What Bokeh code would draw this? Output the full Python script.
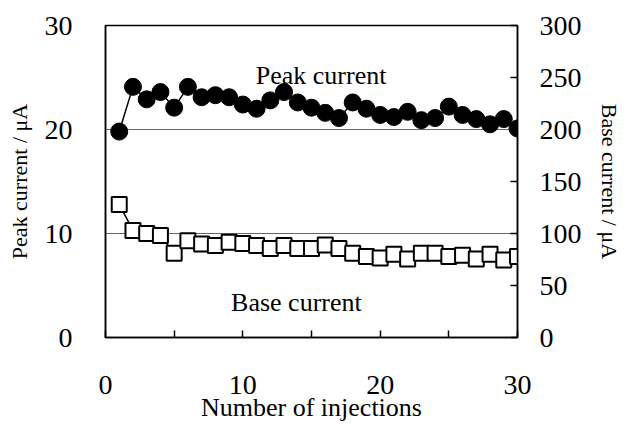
from bokeh.plotting import figure
from bokeh.models import Range1d, LinearAxis, FixedTicker, Label
from bokeh.embed import file_html
from bokeh.resources import INLINE

injections = list(range(1, 31))
peak_current = [19.8, 24.1, 22.9, 23.6, 22.1, 24.1, 23.1, 23.3, 23.1, 22.4,
                22.0, 22.8, 23.6, 22.6, 22.1, 21.6, 21.1, 22.6, 22.0, 21.4,
                21.2, 21.7, 20.9, 21.1, 22.2, 21.4, 21.0, 20.5, 21.0, 20.1]
base_current = [128, 103, 100, 98, 81, 93, 90, 88.5, 91.5, 90.5,
                88.5, 85.5, 88.5, 85.5, 85.5, 89, 85.5, 81, 78, 76.5,
                80, 75.5, 81, 81, 78, 79, 75.5, 80, 74.5, 78]

x_ticks = [0, 10, 20, 30]
x_minor = [5, 15, 25]
left_ticks = [0, 10, 20, 30]
right_ticks = [0, 50, 100, 150, 200, 250, 300]

FONT = "Liberation Serif"

p = figure(width=625, height=426, output_backend="svg", toolbar_location=None,
           x_range=Range1d(0, 30), y_range=Range1d(0, 30),
           min_border_left=105, min_border_right=108, min_border_top=25, min_border_bottom=89)
p.extra_y_ranges = {"base": Range1d(0, 300)}

p.outline_line_color = "black"
p.outline_line_width = 1.5
p.background_fill_color = "white"
p.border_fill_color = "white"

p.xgrid.visible = False
p.ygrid.ticker = FixedTicker(ticks=[10, 20])
p.ygrid.grid_line_color = "#666666"
p.ygrid.grid_line_width = 1

# bottom axis
xa = p.xaxis[0]
xa.ticker = FixedTicker(ticks=x_ticks, minor_ticks=x_minor)
xa.axis_label = "Number of injections"
xa.major_tick_in = 7
xa.major_tick_out = 0
xa.minor_tick_in = 7
xa.minor_tick_out = 0
xa.major_label_standoff = 38
xa.axis_label_standoff = -4

# left axis
ya = p.yaxis[0]
ya.ticker = FixedTicker(ticks=left_ticks)
ya.axis_label = "Peak current / μA"
ya.major_tick_in = 0
ya.major_tick_out = 0
ya.minor_tick_line_color = None
ya.major_label_standoff = 33
ya.axis_label_standoff = 10

ra = LinearAxis(y_range_name="base", ticker=FixedTicker(ticks=right_ticks))
ra.axis_label = "Base current / μA"
ra.major_tick_in = 7
ra.major_tick_out = 0
ra.minor_tick_line_color = None
ra.major_label_standoff = 22
ra.axis_label_standoff = 12
p.add_layout(ra, "right")

for ax in [xa, ya, ra]:
    ax.axis_line_color = "black"
    ax.axis_line_width = 1.5
    ax.major_tick_line_color = "black"
    ax.major_tick_line_width = 1.5
    ax.minor_tick_line_width = 1.5
    ax.major_label_text_font = FONT
    ax.major_label_text_font_size = "28px"
    ax.major_label_text_color = "black"
    ax.axis_label_text_font = FONT
    ax.axis_label_text_font_style = "normal"
    ax.axis_label_text_color = "black"
    ax.axis_label_text_font_size = "22px"
xa.axis_label_text_font_size = "26px"

# peak current series
p.line(injections, peak_current, line_color="black", line_width=1.5)
p.scatter(injections, peak_current, marker="circle", size=17,
          fill_color="black", line_color="black")

# base current series
p.line(injections, base_current, line_color="black", line_width=1.5, y_range_name="base")
p.scatter(injections, base_current, marker="square", size=15,
          fill_color="white", line_color="black", line_width=2, y_range_name="base")

p.add_layout(Label(x=15.7, y=25.2, text="Peak current", text_font=FONT,
                   text_font_size="26px", text_color="black", text_align="center",
                   text_baseline="alphabetic"))
p.add_layout(Label(x=13.9, y=3.37, text="Base current", text_font=FONT,
                   text_font_size="26px", text_color="black", text_align="center",
                   text_baseline="alphabetic"))

open("out.html", "w").write(file_html(p, INLINE))
